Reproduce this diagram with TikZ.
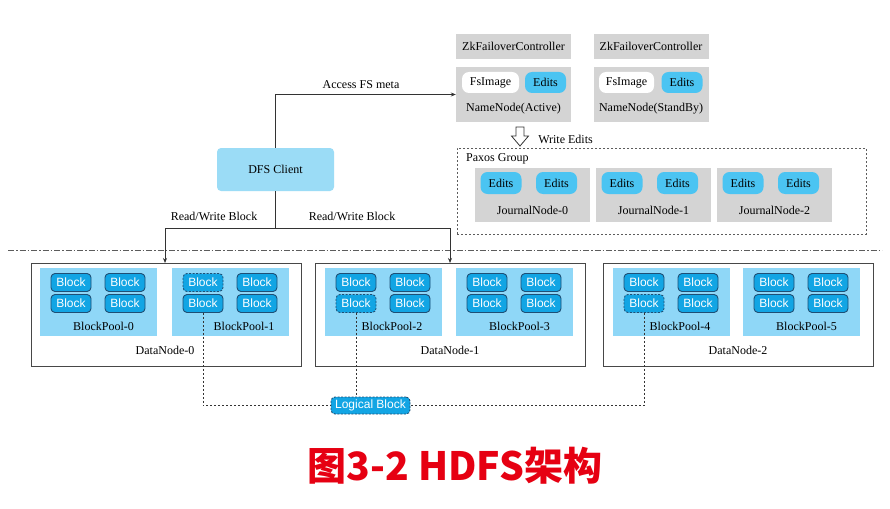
\documentclass[tikz,border=0pt]{standalone}
\usepackage{fontspec}
\setmainfont{Liberation Serif}
\newfontfamily\blockfont{Liberation Sans}
\newfontfamily\cjk{Noto Sans CJK SC}
\usetikzlibrary{arrows.meta}
\definecolor{gbox}{HTML}{D4D4D4}
\definecolor{pill}{HTML}{4BC4F2}
\definecolor{dfsc}{HTML}{9BDCF6}
\definecolor{poolc}{HTML}{8FD7F7}
\definecolor{blkc}{HTML}{12A5E4}
\definecolor{blkb}{HTML}{1F4F75}
\definecolor{linec}{HTML}{333333}
\definecolor{titlec}{HTML}{E60012}
\tikzset{
  every node/.style={font=\fontsize{12}{13}\selectfont, inner sep=0pt},
  graybox/.style={fill=gbox, draw=none, minimum width=115pt},
  whitepill/.style={fill=white, rounded corners=7pt, minimum width=57pt, minimum height=21pt},
  edpill/.style={fill=pill, rounded corners=7pt, minimum width=41pt, minimum height=22pt},
  blk/.style={fill=blkc, draw=blkb, line width=0.9pt, rounded corners=4pt, minimum width=40pt, minimum height=18pt, text=white, font=\blockfont\fontsize{12}{12}\selectfont},
  dblk/.style={blk, dash pattern=on 2pt off 1.5pt},
  pool/.style={fill=poolc, minimum width=117pt, minimum height=68pt},
  datanode/.style={draw=linec!90, line width=0.9pt, fill=white, minimum width=270pt, minimum height=103pt},
  conn/.style={draw=linec, line width=0.7pt, -{Stealth[length=5pt,width=4pt]}},
  dashc/.style={draw=linec, line width=0.7pt, dash pattern=on 2pt off 2pt},
}
\begin{document}
\begin{tikzpicture}[x=1pt,y=-1pt]
\useasboundingbox[fill=white] (0,0) rectangle (890,508);

% NameNodes
\node[graybox, minimum height=25pt] (zk1) at (513.5,46.5) {ZkFailoverController};
\node[graybox, minimum height=25pt] (zk2) at (651,46.5) {ZkFailoverController};
\node[graybox, minimum height=55pt] (nn1) at (513.5,94.5) {};
\node[graybox, minimum height=55pt] (nn2) at (651,94.5) {};
\node[whitepill] (fs1) at (490.5,82.5) {FsImage};
\node[edpill, minimum height=21pt] (ed1) at (545.5,82.5) {Edits};
\node[whitepill, minimum width=55pt] (fs2) at (626.5,82.5) {FsImage};
\node[edpill, minimum height=21pt] (ed2) at (682,82.5) {Edits};
\node (nn1t) at (513.5,108.5) {NameNode(Active)};
\node (nn2t) at (651,108.5) {NameNode(StandBy)};

% hollow arrow
\draw[draw=linec, line width=0.8pt, fill=white] (516,127) -- (524,127) -- (524,136) -- (528.5,136) -- (520,146) -- (511.5,136) -- (516,136) -- cycle;
\node (we) at (565.5,139) {Write Edits};

% Paxos group
\node[draw=linec!80, line width=0.8pt, dash pattern=on 2pt off 2pt, minimum width=409pt, minimum height=86pt] (paxos) at (661.5,191) {};
\node[anchor=west] (pg) at (466,158.5) {Paxos Group};
\foreach \j/\x in {0/475,1/596,2/717}{
  \node[graybox, minimum height=54pt] (jn\j) at (\x+57.5,195) {};
  \node[edpill] (je\j a) at (\x+26,183) {Edits};
  \node[edpill] (je\j b) at (\x+81.5,183) {Edits};
  \node (jt\j) at (\x+57.5,210.5) {JournalNode-\j};
}

% DFS client
\node[fill=dfsc, rounded corners=4pt, minimum width=117pt, minimum height=43pt] (dfs) at (275.5,169.5) {DFS Client};

% dash-dot separator
\coordinate (sepL) at (8,250);
\coordinate (sepR) at (882,250);
\draw[draw=linec!80, line width=0.7pt, dash pattern=on 6pt off 2pt on 1.5pt off 2pt] (sepL) -- (sepR);

% DataNodes
\node[datanode] (dn0) at (166,314.5) {};
\node[datanode] (dn1) at (450,314.5) {};
\node[datanode] (dn2) at (738,314.5) {};
\node (dn0t) at (165,350.5) {DataNode-0};
\node (dn1t) at (450,350.5) {DataNode-1};
\node (dn2t) at (738,350.5) {DataNode-2};

% Block pools
\foreach \p/\x/\d/\lx in {0/40/0/103.5,1/172/1/244,2/325/3/392,3/456/0/519.5,4/613/3/680,5/743/0/806.5}{
  \node[pool] (p\p) at (\x+58.5,302) {};
  \node (pt\p) at (\lx,326) {BlockPool-\p};
  \foreach \k/\dx/\y in {1/31/282.5,2/85/282.5,3/31/303.5,4/85/303.5}{
    \ifnum\k=\d \def\bs{dblk}\else\def\bs{blk}\fi
    \node[\bs] (b\p-\k) at (\x+\dx,\y) {Block};
  }
}

% connectors
\draw[conn] (dfs.north) |- (nn1.west);
\node (acc) at (361,85) {Access FS meta};
\coordinate (split) at (275.5,228);
\coordinate (in0) at (165,263);
\coordinate (in1) at (450,263);
\draw[draw=linec, line width=0.7pt] (dfs.south) -- (split);
\draw[conn] (split) -| (in0);
\draw[conn] (split) -| (in1);
\node (rw0) at (214,216) {Read/Write Block};
\node (rw1) at (352,216) {Read/Write Block};

% logical block
\node[blk, dash pattern=on 2pt off 1.5pt, minimum width=79pt, minimum height=17pt] (lb) at (370.5,405.5) {Logical Block};
\draw[dashc] (b1-3.south) |- (lb.west);
\draw[dashc] (b2-3.south) -- (b2-3.south |- lb.north);
\draw[dashc] (b4-3.south) |- (lb.east);

% title
\node[text=titlec, font=\cjk\bfseries\fontsize{39}{44}\selectfont] (title) at (455,466) {图3-2 HDFS架构};
\end{tikzpicture}
\end{document}
